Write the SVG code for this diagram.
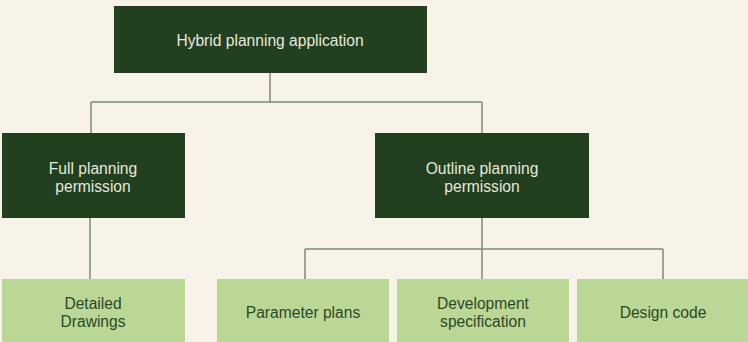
<svg xmlns="http://www.w3.org/2000/svg" width="748" height="342" viewBox="0 0 748 342">
<style>
.dark{fill:#223f1f}
.light{fill:#bbd795}
.td{font-family:"Liberation Sans",Arial,sans-serif;font-size:15.6px;fill:#e6e8dc;text-anchor:middle;dominant-baseline:central}
.tl{font-family:"Liberation Sans",Arial,sans-serif;font-size:15.6px;fill:#2c4727;text-anchor:middle;dominant-baseline:central}
.c{fill:none;stroke:#7d8c74;stroke-width:1.5}
</style>
<rect width="748" height="342" fill="#f7f3e9"/>
<g id="connectors">
<path class="c" d="M270 73V102M91 102H482M91 102V133M482 102V133"/>
<path class="c" d="M90 218V279"/>
<path class="c" d="M482 218V279M305 249H663M305 249V279M663 249V279"/>
</g>
<g id="hybrid"><rect class="dark" x="114" y="6" width="313" height="67"/><text class="td" x="270" y="40">Hybrid planning application</text></g>
<g id="full"><rect class="dark" x="2" y="133" width="183" height="85"/><text class="td" x="93" y="168">Full planning</text><text class="td" x="93" y="186">permission</text></g>
<g id="outline"><rect class="dark" x="375" y="133" width="214" height="85"/><text class="td" x="482" y="168">Outline planning</text><text class="td" x="482" y="186">permission</text></g>
<g id="detailed"><rect class="light" x="2" y="279" width="183" height="63"/><text class="tl" x="93" y="303">Detailed</text><text class="tl" x="93" y="321">Drawings</text></g>
<g id="parameter"><rect class="light" x="217" y="279" width="172" height="63"/><text class="tl" x="303" y="312">Parameter plans</text></g>
<g id="development"><rect class="light" x="397" y="279" width="172" height="63"/><text class="tl" x="483" y="303">Development</text><text class="tl" x="483" y="321">specification</text></g>
<g id="design"><rect class="light" x="577" y="279" width="171" height="63"/><text class="tl" x="663" y="312">Design code</text></g>
</svg>
